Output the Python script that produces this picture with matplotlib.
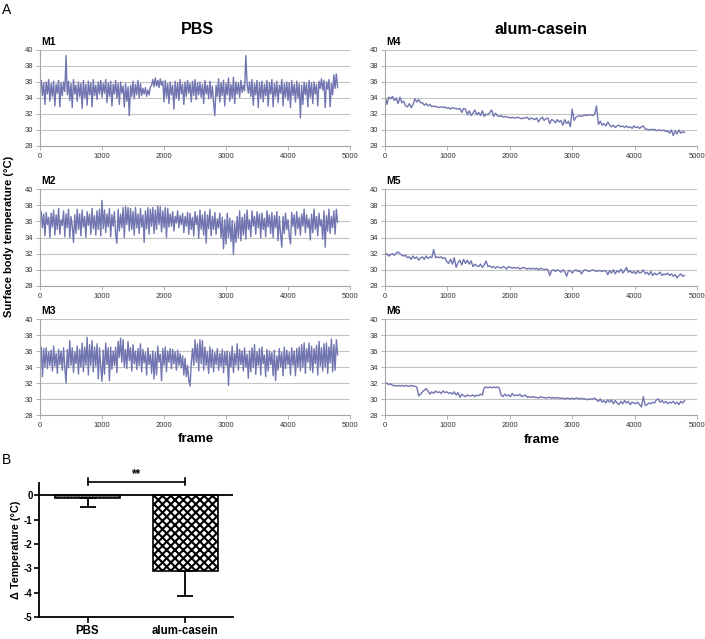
import numpy as np
import matplotlib
matplotlib.use("Agg")
import matplotlib.pyplot as plt

plt.rcParams['font.family'] = ['Liberation Sans', 'DejaVu Sans']
plt.rcParams['hatch.linewidth'] = 1.5
plt.rcParams['axes.unicode_minus'] = False

# frame index of the samples: PBS traces read every 20 frames, alum-casein every 30
frames_pbs = np.arange(0, 4801, 20)
frames_alum = np.arange(0, 4801, 30)

# surface body temperature (deg C)
m1 = [35.1, 36.2, 34.3, 35.9, 33.2, 36.0, 34.5, 36.3, 33.6, 35.8,
      34.2, 36.1, 33.0, 35.7, 34.6, 36.2, 32.9, 35.9, 34.3, 36.0,
      34.8, 39.3, 34.4, 36.1, 33.7, 35.8, 32.8, 36.3, 34.5, 35.6,
      33.6, 36.0, 34.2, 35.8, 32.7, 36.2, 34.0, 35.7, 33.1, 36.1,
      34.4, 35.9, 32.9, 36.3, 34.3, 35.6, 33.8, 36.0, 34.5, 36.2,
      34.1, 35.8, 34.6, 36.3, 33.4, 35.9, 34.2, 36.1, 33.0, 35.7,
      34.5, 36.2, 34.0, 35.8, 33.2, 36.0, 34.6, 35.5, 32.9, 35.8,
      33.6, 35.4, 31.8, 35.6, 34.2, 36.1, 33.9, 35.7, 34.4, 36.2,
      34.0, 35.8, 34.3, 35.2, 34.5, 35.3, 34.2, 35.0, 34.4, 35.4,
      35.6, 36.3, 35.4, 36.5, 35.5, 36.2, 35.3, 36.4, 35.6, 36.1,
      33.5, 36.2, 34.1, 35.8, 33.3, 36.0, 34.4, 35.6, 32.6, 36.1,
      34.0, 35.9, 33.7, 36.3, 34.5, 35.7, 33.2, 36.0, 34.2, 36.2,
      34.6, 35.8, 33.5, 36.1, 34.3, 36.3, 33.8, 35.9, 34.4, 36.0,
      34.1, 35.7, 33.3, 36.2, 34.5, 35.6, 33.9, 36.1, 34.0, 35.5,
      33.4, 31.8, 35.6, 34.2, 36.4, 33.5, 35.9, 34.3, 36.2, 33.0,
      35.8, 34.4, 36.5, 33.6, 35.7, 34.0, 36.6, 33.3, 36.0, 34.5,
      35.9, 34.1, 36.2, 34.7, 35.6, 34.9, 39.3, 35.8, 34.6, 36.0,
      34.2, 36.3, 33.1, 35.8, 34.4, 36.2, 32.8, 35.9, 34.0, 36.1,
      33.5, 35.7, 34.3, 36.2, 33.0, 35.9, 34.5, 36.3, 32.9, 35.8,
      34.2, 36.1, 33.4, 35.6, 34.6, 36.3, 33.0, 35.8, 34.1, 36.0,
      33.7, 35.9, 32.8, 36.2, 34.3, 35.7, 33.5, 36.1, 34.0, 35.8,
      31.5, 35.6, 33.2, 36.0, 34.4, 35.8, 32.9, 36.2, 34.1, 35.9,
      33.3, 36.0, 34.5, 35.7, 33.0, 36.1, 35.2, 36.4, 35.0, 36.2,
      32.8, 36.0, 35.1, 36.3, 32.9, 35.8, 34.4, 36.9, 35.2, 37.0,
      35.3]

m2 = [36.0, 37.2, 35.2, 36.9, 34.2, 37.1, 35.6, 36.5, 34.0, 37.0,
      35.3, 37.4, 34.3, 36.8, 35.0, 37.6, 34.4, 36.2, 35.5, 37.3,
      34.1, 36.9, 35.2, 37.5, 34.0, 36.6, 35.4, 33.4, 36.8, 34.5,
      37.5, 35.0, 36.9, 34.2, 37.4, 35.3, 36.6, 34.0, 37.2, 35.5,
      36.9, 34.4, 37.6, 35.1, 36.7, 34.3, 37.3, 35.0, 37.5, 34.2,
      38.6, 35.1, 37.4, 34.6, 36.9, 35.3, 37.6, 34.1, 36.8, 35.4,
      37.2, 34.4, 33.3, 37.5, 34.8, 36.9, 35.2, 37.7, 34.0, 37.8,
      35.6, 37.7, 34.8, 37.6, 35.0, 37.2, 34.3, 37.7, 35.2, 36.9,
      34.5, 37.6, 35.3, 36.8, 33.4, 37.3, 35.1, 37.7, 34.4, 37.5,
      35.4, 37.7, 34.5, 37.4, 35.0, 37.9, 35.6, 37.8, 34.7, 37.3,
      35.2, 37.7, 34.0, 37.6, 35.3, 36.9, 35.4, 37.2, 34.8, 36.6,
      35.8, 37.3, 35.2, 36.7, 35.6, 37.0, 34.6, 36.6, 35.4, 37.1,
      34.4, 37.0, 35.0, 36.5, 34.2, 37.2, 35.6, 36.7, 33.9, 37.4,
      35.0, 36.8, 34.3, 37.2, 33.3, 36.8, 35.1, 37.5, 34.2, 36.6,
      35.0, 37.1, 34.4, 36.3, 35.2, 37.0, 34.0, 36.5, 32.6, 36.2,
      33.2, 37.0, 34.0, 36.4, 33.5, 36.1, 31.9, 35.8, 33.4, 36.6,
      34.0, 37.3, 33.6, 36.5, 34.3, 36.9, 33.8, 37.4, 35.0, 36.2,
      34.1, 37.3, 35.4, 36.6, 34.4, 37.2, 35.2, 36.9, 34.0, 37.0,
      35.0, 36.4, 34.1, 37.3, 35.3, 36.8, 34.5, 37.1, 34.0, 36.7,
      35.2, 37.2, 33.6, 36.6, 34.4, 32.8, 36.6, 34.5, 37.0, 35.0,
      36.2, 34.2, 33.2, 37.1, 35.4, 36.8, 34.3, 37.2, 35.1, 36.5,
      34.3, 36.9, 35.4, 37.5, 34.6, 36.8, 35.2, 36.3, 33.7, 36.9,
      34.6, 37.5, 35.0, 36.6, 34.2, 37.0, 35.4, 36.2, 33.8, 37.3,
      32.8, 36.7, 34.8, 37.5, 34.5, 36.6, 35.2, 37.3, 34.4, 37.5,
      35.9]

m3 = [35.0, 36.5, 32.8, 36.3, 34.0, 36.4, 33.8, 35.9, 34.2, 36.1,
      33.5, 36.6, 34.1, 35.7, 33.2, 36.2, 34.3, 36.0, 33.6, 36.4,
      34.0, 32.0, 36.2, 33.9, 37.3, 34.2, 36.4, 33.3, 35.9, 34.4,
      36.6, 33.1, 36.2, 34.0, 37.0, 33.4, 36.5, 34.2, 37.7, 33.0,
      36.8, 34.2, 37.3, 33.4, 36.5, 34.1, 36.9, 32.5, 36.4, 34.0,
      32.2, 36.1, 33.1, 37.0, 34.3, 36.4, 32.3, 36.5, 33.7, 36.0,
      34.2, 36.5, 33.3, 37.2, 35.2, 37.6, 34.6, 37.4, 34.0, 36.2,
      33.8, 37.2, 34.8, 36.4, 33.5, 36.8, 34.4, 36.0, 33.7, 36.3,
      34.2, 36.9, 33.4, 36.2, 34.5, 35.8, 33.0, 36.4, 34.3, 35.6,
      33.2, 36.0, 32.5, 35.8, 33.0, 36.6, 34.6, 35.6, 32.3, 36.3,
      34.2, 36.5, 33.4, 36.0, 34.6, 36.3, 33.8, 36.2, 34.4, 35.9,
      33.6, 36.1, 34.2, 35.7, 33.9, 35.4, 33.0, 35.1, 32.8, 34.2,
      32.4, 31.6, 34.5, 36.3, 34.2, 37.4, 34.6, 36.9, 33.5, 37.4,
      34.4, 37.3, 33.6, 36.5, 34.2, 35.9, 33.2, 36.5, 34.0, 36.2,
      33.4, 35.8, 34.3, 36.3, 33.6, 35.7, 34.1, 36.2, 33.3, 35.9,
      34.2, 36.0, 31.7, 35.8, 34.0, 36.6, 33.3, 35.7, 34.2, 36.9,
      33.6, 36.2, 34.3, 36.0, 33.5, 36.4, 34.0, 35.6, 32.6, 36.0,
      33.4, 36.4, 34.0, 36.8, 33.1, 35.9, 34.2, 36.3, 33.0, 36.5,
      34.4, 35.5, 32.8, 36.2, 33.5, 36.0, 34.3, 35.8, 32.9, 36.1,
      32.3, 35.4, 33.6, 36.3, 34.0, 35.8, 32.9, 36.5, 33.8, 36.1,
      34.3, 35.8, 33.0, 36.4, 34.2, 36.0, 32.9, 36.3, 34.0, 36.5,
      33.5, 36.8, 34.0, 37.0, 33.2, 36.3, 34.6, 37.0, 33.6, 36.6,
      33.3, 36.3, 34.4, 36.7, 33.0, 37.2, 34.1, 36.4, 33.5, 36.9,
      34.0, 37.0, 33.2, 36.5, 34.5, 37.5, 33.4, 36.8, 33.6, 37.4,
      35.5]

m4 = [34.3, 33.2, 34.1, 33.9, 34.2, 33.7, 34.0, 33.3, 34.1, 33.4,
      33.6, 33.0, 32.9, 33.3, 32.8, 33.2, 33.9, 33.5, 33.8, 33.4,
      33.4, 33.1, 33.3, 33.0, 33.2, 32.9, 33.0, 32.9, 32.9, 32.8,
      32.9, 32.8, 32.9, 32.7, 32.8, 32.6, 32.8, 32.7, 32.7, 32.6,
      32.7, 32.2, 32.7, 32.6, 31.9, 32.4, 31.8, 32.1, 32.5, 31.9,
      32.2, 31.8, 32.4, 31.7, 32.0, 31.9, 32.2, 32.5, 31.7, 32.1,
      31.8, 31.7, 31.8, 31.6, 31.7, 31.6, 31.6, 31.5, 31.6, 31.5,
      31.5, 31.6, 31.5, 31.4, 31.5, 31.5, 31.6, 31.3, 31.5, 31.4,
      31.3, 31.5, 31.0, 31.4, 31.6, 31.2, 31.4, 31.5, 30.8, 31.3,
      31.2, 30.9, 31.3, 31.0, 31.2, 30.6, 31.3, 30.8, 31.1, 30.4,
      32.6, 31.2, 31.6, 31.7, 31.8, 31.7, 31.8, 31.9, 31.8, 31.9,
      31.9, 31.8, 32.0, 33.0, 30.7, 31.1, 30.6, 30.8, 30.5, 31.0,
      30.6, 30.4, 30.6, 30.3, 30.5, 30.6, 30.4, 30.5, 30.3, 30.5,
      30.3, 30.4, 30.2, 30.5, 30.3, 30.4, 30.2, 30.4, 30.5, 30.1,
      30.1, 30.0, 30.1, 30.0, 30.1, 29.9, 30.0, 30.0, 29.9, 30.0,
      29.8, 29.9, 29.6, 30.0, 29.3, 29.9, 29.5, 30.0, 29.6, 29.8, 29.7]

m5 = [31.8, 32.0, 31.7, 31.9, 32.0, 31.8, 32.1, 32.2, 32.0, 31.8,
      31.7, 31.8, 31.5, 31.6, 31.3, 31.7, 31.4, 31.6, 31.2, 31.5,
      31.6, 31.3, 31.7, 31.4, 31.6, 31.5, 32.5, 31.5, 31.6, 31.5,
      31.6, 31.4, 31.5, 31.0, 30.8, 31.3, 30.7, 31.5, 30.3, 30.9,
      31.2, 30.6, 31.3, 30.8, 31.2, 30.7, 31.1, 30.4, 30.7, 30.5,
      30.4, 30.7, 30.3, 30.6, 31.1, 30.4, 30.5, 30.3, 30.4, 30.2,
      30.4, 30.3, 30.2, 30.4, 30.3, 30.1, 30.4, 30.3, 30.2, 30.3,
      30.2, 30.3, 30.1, 30.2, 30.3, 30.2, 30.1, 30.2, 30.1, 30.2,
      30.1, 30.2, 30.0, 30.2, 30.1, 30.0, 30.1, 30.0, 29.3, 29.9,
      30.0, 29.8, 30.0, 29.9, 29.7, 30.0, 29.8, 29.2, 29.9, 29.9,
      29.6, 29.9, 30.0, 29.8, 29.9, 29.5, 29.9, 30.0, 29.9, 29.8,
      29.9, 30.0, 29.9, 29.8, 29.9, 29.9, 29.8, 29.9, 29.9, 29.4,
      29.9, 29.6, 30.0, 29.5, 29.9, 29.7, 30.1, 29.6, 29.9, 30.3,
      29.7, 29.9, 29.6, 29.8, 29.5, 29.9, 29.6, 29.7, 30.0, 29.5,
      29.7, 29.4, 29.8, 29.3, 29.6, 29.4, 29.5, 29.7, 29.3, 29.5,
      29.4, 29.6, 29.3, 29.5, 29.2, 29.4, 29.0, 29.3, 29.5, 29.2, 29.3]

m6 = [31.9, 32.0, 31.8, 31.9, 31.7, 31.7, 31.6, 31.7, 31.6, 31.7,
      31.6, 31.7, 31.6, 31.6, 31.7, 31.6, 31.6, 31.5, 30.4, 30.6,
      30.9, 31.1, 31.3, 31.0, 30.6, 30.9, 30.7, 31.0, 30.8, 30.9,
      30.7, 31.0, 30.8, 30.9, 30.7, 30.8, 30.6, 30.9, 30.5, 30.8,
      30.2, 30.6, 30.4, 30.3, 30.5, 30.4, 30.4, 30.5, 30.3, 30.5,
      30.4, 30.6, 30.5, 31.4, 31.5, 31.4, 31.5, 31.4, 31.5, 31.4,
      31.5, 31.4, 30.5, 30.3, 30.6, 30.4, 30.5, 30.3, 30.7, 30.4,
      30.5, 30.4, 30.6, 30.3, 30.4, 30.5, 30.2, 30.3, 30.2, 30.3,
      30.2, 30.2, 30.1, 30.3, 30.2, 30.2, 30.1, 30.2, 30.2, 30.1,
      30.2, 30.1, 30.2, 30.1, 30.1, 30.1, 30.0, 30.1, 30.1, 30.0,
      30.1, 30.0, 30.1, 30.1, 30.0, 30.1, 30.0, 30.0, 29.9, 30.0,
      30.0, 30.0, 30.1, 29.9, 29.7, 30.0, 29.6, 29.8, 29.5, 29.9,
      29.6, 29.9, 29.4, 29.8, 29.5, 29.3, 29.7, 29.4, 29.8, 29.5,
      29.7, 29.3, 29.6, 29.5, 29.4, 29.6, 29.3, 29.0, 30.3, 29.2,
      29.3, 29.5, 29.4, 29.6, 29.5, 29.9, 30.0, 29.6, 29.8, 29.5,
      29.7, 29.4, 29.6, 29.5, 29.7, 29.4, 29.6, 29.3, 29.7, 29.5, 29.8]

mice = ["M1", "M2", "M3", "M4", "M5", "M6"]
traces = [m1, m2, m3, m4, m5, m6]
trace_frames = [frames_pbs] * 3 + [frames_alum] * 3

# panel B
groups = ["PBS", "alum-casein"]
delta_mean = [-0.1, -3.1]
delta_err = [0.37, 1.05]

W, H = 705, 639
fig = plt.figure(figsize=(W / 100, H / 100), dpi=100)

def box(x0, y0, x1, y1):
    return [x0 / W, 1 - y1 / H, (x1 - x0) / W, (y1 - y0) / H]

line_col = "#7175b0"
grid_col = "#c4c4c4"

rows = [(50, 146), (189, 286), (319, 415)]
cols = [(40, 350), (385, 697)]

for k, (name, fr, vals) in enumerate(zip(mice, trace_frames, traces)):
    c = k // 3
    r = k % 3
    ax = fig.add_axes(box(cols[c][0], rows[r][0], cols[c][1], rows[r][1]))
    ax.plot(fr, vals, color=line_col, lw=1.0)
    ax.set_xlim(0, 5000)
    ax.set_ylim(28, 40)
    ax.set_yticks(range(28, 41, 2))
    ax.set_xticks(range(0, 5001, 1000))
    ax.grid(axis="y", color=grid_col, lw=0.8)
    ax.set_axisbelow(True)
    for s in ["top", "right"]:
        ax.spines[s].set_visible(False)
    for s in ["left", "bottom"]:
        ax.spines[s].set_color("#a6a6a6")
        ax.spines[s].set_linewidth(0.8)
    ax.tick_params(labelsize=5.5, colors="#a6a6a6", labelcolor="#333333",
                   length=3, width=0.6, pad=2)
    fig.text((cols[c][0] + 1) / W, 1 - (rows[r][0] - 8) / H, name,
             fontsize=7.5, fontweight="bold", ha="left", va="center")

fig.text(197 / W, 1 - 29 / H, "PBS", fontsize=11.5, fontweight="bold",
         ha="center", va="center")
fig.text(541 / W, 1 - 29 / H, "alum-casein", fontsize=11.5, fontweight="bold",
         ha="center", va="center")
fig.text(196 / W, 1 - 439 / H, "frame", fontsize=9.5, fontweight="bold",
         ha="center", va="center")
fig.text(542 / W, 1 - 440 / H, "frame", fontsize=9.5, fontweight="bold",
         ha="center", va="center")
fig.text(9 / W, 1 - 236 / H, "Surface body temperature (°C)", fontsize=8,
         fontweight="bold", rotation=90, ha="center", va="center")
fig.text(2 / W, 1 - 10 / H, "A", fontsize=10, ha="left", va="center")
fig.text(2 / W, 1 - 460 / H, "B", fontsize=10, ha="left", va="center")

# panel B bar chart
bx = fig.add_axes(box(39, 483, 233, 617))
x = np.arange(len(groups))
bars = bx.bar(x, delta_mean, width=0.66, color="white", edgecolor="black",
              linewidth=1.2, zorder=2)
bars[0].set_hatch("......")
bars[1].set_hatch("xxxx")
bx.errorbar(x, delta_mean, yerr=[delta_err, [0, 0]], fmt="none",
            ecolor="black", elinewidth=1.3, capsize=6, capthick=1.3, zorder=3)
bx.axhline(0, color="black", lw=1.3, zorder=4)
bx.set_xlim(-0.495, 1.485)
bx.set_ylim(-5, 0.5)
bx.set_yticks(range(-5, 1))
bx.set_xticks(x)
bx.set_xticklabels(groups)
for s in ["top", "right"]:
    bx.spines[s].set_visible(False)
for s in ["left", "bottom"]:
    bx.spines[s].set_linewidth(1.3)
bx.tick_params(axis="y", labelsize=7, length=3.5, width=1.2, pad=1)
bx.tick_params(axis="x", labelsize=8.3, length=4, width=1.2, pad=1.5)
for lab in bx.get_xticklabels() + bx.get_yticklabels():
    lab.set_fontweight("bold")
bx.set_ylabel("Δ Temperature (°C)", fontsize=7.8, fontweight="bold", labelpad=2)

# significance bracket
bx.plot([0, 1], [0.55, 0.55], color="black", lw=1.2, clip_on=False)
bx.plot([0, 0], [0.4, 0.7], color="black", lw=1.2, clip_on=False)
bx.plot([1, 1], [0.4, 0.7], color="black", lw=1.2, clip_on=False)
bx.text(0.5, 0.62, "**", fontsize=8.5, fontweight="bold", ha="center",
        va="bottom", clip_on=False)

fig.savefig("out.png", dpi=100)
